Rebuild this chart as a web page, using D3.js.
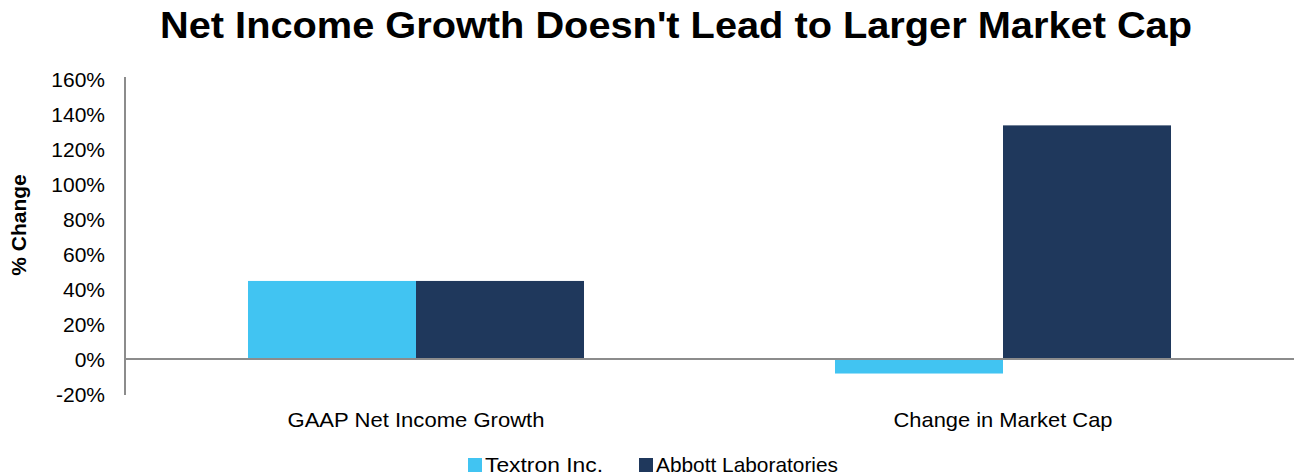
<!DOCTYPE html>
<html>
<head>
<meta charset="utf-8">
<script src="https://cdn.jsdelivr.net/npm/d3@7/dist/d3.min.js"></script>
<style>
  html, body { margin: 0; padding: 0; background: #fff; }
  svg { display: block; font-family: "Liberation Sans", Arial, sans-serif; }
</style>
</head>
<body>
<svg id="chart" width="1294" height="476"></svg>
<script>
const title = "Net Income Growth Doesn't Lead to Larger Market Cap";
const yAxisTitle = "% Change";
const categories = ["GAAP Net Income Growth", "Change in Market Cap"];
const seriesNames = ["Textron Inc.", "Abbott Laboratories"];
const textronValues = [44.6, -8.3];
const abbottValues = [44.6, 133.5];
const yTicks = [-20, 0, 20, 40, 60, 80, 100, 120, 140, 160];
const colors = ["#41C4F2", "#1F385C"];

const seriesValues = [textronValues, abbottValues];
const data = categories.map((c, i) => ({
  category: c,
  values: seriesNames.map((s, j) => ({ series: s, value: seriesValues[j][i], idx: j }))
}));

const svg = d3.select("#chart");
const W = 1294, H = 476;
const axisX = 125;

const y = d3.scaleLinear().domain([-20, 160]).range([394, 79]);
const x0 = d3.scaleBand().domain(categories).range([122.5, 1296.5]).paddingInner(0).paddingOuter(0);
const x1 = d3.scaleBand().domain(seriesNames).range([0, x0.bandwidth()]).paddingInner(0).paddingOuter(0.747);

// Title
svg.append("text")
  .attr("x", 676).attr("y", 38)
  .attr("text-anchor", "middle")
  .attr("font-size", 37).attr("font-weight", "bold")
  .attr("fill", "#000")
  .attr("textLength", 1032).attr("lengthAdjust", "spacingAndGlyphs")
  .text(title);

// Y axis title
svg.append("text")
  .attr("transform", `translate(26,225) rotate(-90)`)
  .attr("text-anchor", "middle")
  .attr("font-size", 21).attr("font-weight", "bold")
  .attr("fill", "#000")
  .text(yAxisTitle);

// Y axis tick labels
const yAxis = d3.axisLeft(y).tickValues(yTicks).tickSize(0).tickPadding(0)
  .tickFormat(d => d + "%");
const gy = svg.append("g").attr("transform", `translate(105,0)`).call(yAxis);
gy.select(".domain").remove();
gy.selectAll("text")
  .attr("font-size", 21)
  .attr("font-family", "Liberation Sans, Arial, sans-serif")
  .attr("fill", "#000")
  .attr("dy", "0.35em");

// Bars
const groups = svg.append("g").selectAll("g").data(data).join("g")
  .attr("transform", d => `translate(${x0(d.category)},0)`);
groups.selectAll("rect").data(d => d.values).join("rect")
  .attr("x", d => x1(d.series))
  .attr("width", x1.bandwidth())
  .attr("y", d => y(Math.max(0, d.value)))
  .attr("height", d => Math.abs(y(d.value) - y(0)))
  .attr("fill", d => colors[d.idx]);

// Y axis line
svg.append("line")
  .attr("x1", axisX).attr("x2", axisX)
  .attr("y1", y(160) - 2).attr("y2", y(-20) + 1)
  .attr("stroke", "#8C8C8C").attr("stroke-width", 2);

// Zero line
svg.append("line")
  .attr("x1", axisX).attr("x2", W)
  .attr("y1", y(0)).attr("y2", y(0))
  .attr("stroke", "#8C8C8C").attr("stroke-width", 2);

// X category labels
const xLabelLen = [257, 219];
const xAxis = d3.axisBottom(x0).tickSize(0).tickPadding(0);
const gx = svg.append("g").attr("transform", `translate(0,427)`).call(xAxis);
gx.select(".domain").remove();
gx.selectAll("text")
  .attr("font-size", 21)
  .attr("font-family", "Liberation Sans, Arial, sans-serif")
  .attr("fill", "#000")
  .attr("dy", 0)
  .attr("textLength", (d, i) => xLabelLen[i])
  .attr("lengthAdjust", "spacingAndGlyphs");

// Legend
const legendX = [468, 639];
const legendLen = [118, 182];
const legend = svg.append("g").selectAll("g").data(seriesNames).join("g")
  .attr("transform", (d, i) => `translate(${legendX[i]},458)`);
legend.append("rect").attr("width", 14).attr("height", 14)
  .attr("fill", (d, i) => colors[i]);
legend.append("text").attr("x", 17).attr("y", 14)
  .attr("font-size", 21).attr("fill", "#000")
  .attr("textLength", (d, i) => legendLen[i])
  .attr("lengthAdjust", "spacingAndGlyphs")
  .text(d => d);
</script>
</body>
</html>
